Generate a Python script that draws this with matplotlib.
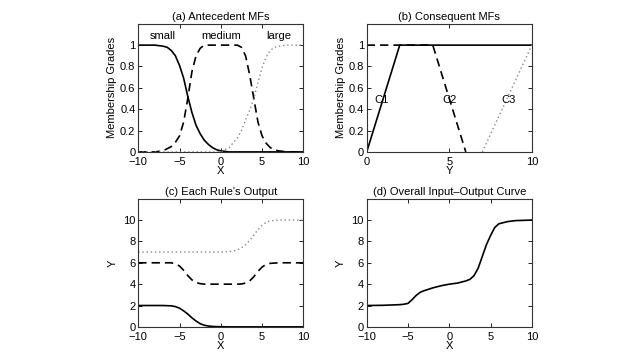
import matplotlib
matplotlib.use('Agg')
import matplotlib.pyplot as plt

plt.rcParams['font.family'] = ['Liberation Sans', 'DejaVu Sans']
plt.rcParams['font.size'] = 8

# (a) antecedent membership functions
xa = [-10, -9, -8, -7, -6.5, -6, -5.5, -5, -4.5, -4, -3.5, -3, -2.5, -2, -1.5, -1,
      -0.5, 0, 1, 2, 2.5, 3, 3.5, 4, 4.5, 5, 5.5, 6, 6.5, 7, 8, 9, 10]
small = [1, 1, 1, 0.99, 0.98, 0.95, 0.9, 0.81, 0.69, 0.52, 0.37, 0.25, 0.17, 0.11, 0.07, 0.04,
         0.02, 0.01, 0, 0, 0, 0, 0, 0, 0, 0, 0, 0, 0, 0, 0, 0, 0]
medium = [0, 0, 0, 0.01, 0.03, 0.05, 0.09, 0.15, 0.28, 0.5, 0.75, 0.9, 0.97, 1, 1, 1,
          1, 1, 1, 1, 0.98, 0.9, 0.72, 0.5, 0.28, 0.15, 0.08, 0.04, 0.02, 0.01, 0, 0, 0]
large = [0, 0, 0, 0, 0, 0, 0, 0, 0, 0, 0, 0, 0, 0, 0, 0,
         0, 0, 0.04, 0.13, 0.2, 0.3, 0.39, 0.5, 0.65, 0.79, 0.89, 0.95, 0.98, 0.99, 1, 1, 1]
mf_labels = ['small', 'medium', 'large']
mf_label_x = [-7, 0, 7]

# (b) consequent membership functions
y_c1 = [0, 2, 10]
c1 = [0, 1, 1]
y_c2 = [0, 4, 6]
c2 = [1, 1, 0]
y_c3 = [7, 10]
c3 = [0, 1]
c_labels = ['C1', 'C2', 'C3']
c_label_x = [0.9, 5, 8.6]

# (c) each rule's output
xc = [-10, -8, -7, -6, -5.5, -5, -4.5, -4, -3.5, -3, -2.5, -2, -1.5, -1, 0, 1, 1.5, 2,
      2.5, 3, 3.5, 4, 4.5, 5, 5.5, 6, 7, 8, 10]
rule1 = [2, 2, 2, 1.97, 1.9, 1.75, 1.5, 1.2, 0.85, 0.55, 0.3, 0.15, 0.08, 0.04, 0.01, 0, 0, 0,
         0, 0, 0, 0, 0, 0, 0, 0, 0, 0, 0]
rule2 = [6, 6, 6, 6, 5.9, 5.7, 5.3, 4.8, 4.4, 4.15, 4.05, 4, 4, 4, 4, 4, 4, 4,
         4.02, 4.1, 4.3, 4.7, 5.2, 5.6, 5.85, 5.95, 6, 6, 6]
rule3 = [7, 7, 7, 7, 7, 7, 7, 7, 7, 7, 7, 7, 7, 7, 7, 7.05, 7.1, 7.2,
         7.4, 7.7, 8.1, 8.6, 9.1, 9.5, 9.8, 9.93, 10, 10, 10]

# (d) overall input-output curve
xd = [-10, -8, -6, -5.5, -5, -4.5, -4, -3.5, -3, -2, -1, 0, 1, 2, 2.5, 3, 3.5, 4,
      4.5, 5, 5.5, 6, 7, 8, 10]
overall = [2, 2.02, 2.08, 2.12, 2.2, 2.55, 2.95, 3.25, 3.4, 3.65, 3.85, 4.0, 4.1, 4.3, 4.45,
           4.8, 5.5, 6.6, 7.7, 8.55, 9.3, 9.65, 9.85, 9.95, 10]

dash = (0, (5, 3))
dot = (0, (1, 2))

fig = plt.figure(figsize=(6.4, 3.6), dpi=100)
ax_a = fig.add_axes([0.216, 0.578, 0.258, 0.356])
ax_b = fig.add_axes([0.573, 0.578, 0.258, 0.356])
ax_c = fig.add_axes([0.216, 0.092, 0.258, 0.356])
ax_d = fig.add_axes([0.573, 0.092, 0.258, 0.356])

for ax in [ax_a, ax_b, ax_c, ax_d]:
    ax.tick_params(direction='in', top=True, right=True, length=3, width=0.6, pad=2)
    ax.tick_params(axis='x', pad=4)
    for s in ax.spines.values():
        s.set_linewidth(0.8)
        s.set_color('#333333')

ax_a.plot(xa, small, color='black', lw=1.2)
ax_a.plot(xa, medium, color='black', lw=1.2, ls=dash)
ax_a.plot(xa, large, color='#888888', lw=1.0, ls=dot)
for lbl, lx in zip(mf_labels, mf_label_x):
    ax_a.text(lx, 1.09, lbl, ha='center', va='center')
ax_a.set_xlim(-10, 10)
ax_a.set_ylim(0, 1.2)
ax_a.set_yticks([0, 0.2, 0.4, 0.6, 0.8, 1])
ax_a.set_yticklabels(['0', '0.2', '0.4', '0.6', '0.8', '1'])
ax_a.set_xticks([-10, -5, 0, 5, 10])
ax_a.set_title('(a) Antecedent MFs', fontsize=8, pad=3)
ax_a.set_xlabel('X', labelpad=-1)
ax_a.set_ylabel('Membership Grades', labelpad=2)

ax_b.plot(y_c1, c1, color='black', lw=1.2)
ax_b.plot(y_c2, c2, color='black', lw=1.2, ls=dash)
ax_b.plot(y_c3, c3, color='#888888', lw=1.0, ls=dot)
for lbl, lx in zip(c_labels, c_label_x):
    ax_b.text(lx, 0.49, lbl, ha='center', va='center')
ax_b.set_xlim(0, 10)
ax_b.set_ylim(0, 1.2)
ax_b.set_yticks([0, 0.2, 0.4, 0.6, 0.8, 1])
ax_b.set_yticklabels(['0', '0.2', '0.4', '0.6', '0.8', '1'])
ax_b.set_xticks([0, 5, 10])
ax_b.set_title('(b) Consequent MFs', fontsize=8, pad=3)
ax_b.set_xlabel('Y', labelpad=-1)
ax_b.set_ylabel('Membership Grades', labelpad=2)

ax_c.plot(xc, rule1, color='black', lw=1.2)
ax_c.plot(xc, rule2, color='black', lw=1.2, ls=dash)
ax_c.plot(xc, rule3, color='#888888', lw=1.0, ls=dot)
ax_c.set_xlim(-10, 10)
ax_c.set_ylim(0, 12)
ax_c.set_yticks([0, 2, 4, 6, 8, 10])
ax_c.set_xticks([-10, -5, 0, 5, 10])
ax_c.set_title("(c) Each Rule's Output", fontsize=8, pad=3)
ax_c.set_xlabel('X', labelpad=-1)
ax_c.set_ylabel('Y', labelpad=4)

ax_d.plot(xd, overall, color='black', lw=1.2)
ax_d.set_xlim(-10, 10)
ax_d.set_ylim(0, 12)
ax_d.set_yticks([0, 2, 4, 6, 8, 10])
ax_d.set_xticks([-10, -5, 0, 5, 10])
ax_d.set_title('(d) Overall Input\u2013Output Curve', fontsize=8, pad=3)
ax_d.set_xlabel('X', labelpad=-1)
ax_d.set_ylabel('Y', labelpad=4)

fig.savefig('out.png', dpi=100)
